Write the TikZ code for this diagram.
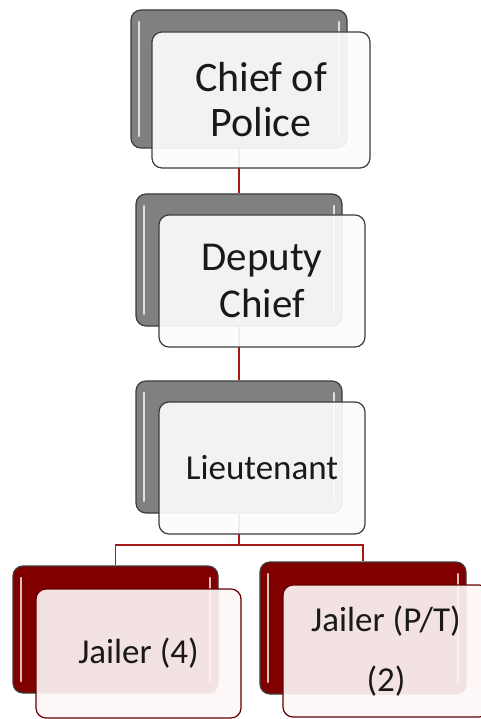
\documentclass[tikz,border=0pt]{standalone}
\usepackage{fontspec}
\setmainfont{Carlito}
\usetikzlibrary{calc}

\definecolor{backgray}{RGB}{128,128,128}
\definecolor{backred}{RGB}{128,0,0}
\definecolor{frontgray}{RGB}{252,252,252}
\definecolor{frontred}{RGB}{253,246,246}
\definecolor{linkred}{RGB}{165,25,25}
\definecolor{edgegray}{RGB}{60,60,60}

\tikzstyle{backbox} = [draw=edgegray, line width=1.2pt, rounded corners=10pt,
    minimum width=206pt, minimum height=132pt,
    path picture={
      \draw[white, line width=2.5pt, line cap=round, opacity=.75]
        ([xshift=8pt,yshift=-12pt]path picture bounding box.north west) --
        ([xshift=8pt,yshift=12pt]path picture bounding box.south west);
      \draw[white, line width=2.5pt, line cap=round, opacity=.75]
        ([xshift=-8pt,yshift=-12pt]path picture bounding box.north east) --
        ([xshift=-8pt,yshift=12pt]path picture bounding box.south east);
    }]
\tikzstyle{frontbox} = [draw=edgegray, line width=1.2pt, rounded corners=10pt,
    fill=frontgray, fill opacity=.92, text opacity=1, text=black!90,
    minimum width=206pt, minimum height=132pt, align=center]
\tikzstyle{link} = [draw=linkred, line width=1.3pt]

\begin{document}
\begin{tikzpicture}[x=1pt,y=-1pt]

\useasboundingbox (0,0) rectangle (481,719);

% back boxes
\node[backbox,fill=backgray,minimum width=216pt,minimum height=138pt] (chiefback) at (239,79) {};
\node[backbox,fill=backgray] (deputyback) at (239,260) {};
\node[backbox,fill=backgray] (lieutback) at (239,447) {};
\node[backbox,fill=backred,minimum width=205pt,minimum height=127pt] (jailaback) at (115.5,629.5) {};
\node[backbox,fill=backred] (jailbback) at (363,628) {};

% links
\coordinate (split) at (239,545);
\draw[link] (chiefback.south) -- (deputyback.north);
\draw[link] (deputyback.south) -- (lieutback.north);
\draw[link] (lieutback.south) -- (split) -| (jailaback.north);
\draw[link] (split) -| (jailbback.north);

% front boxes
\node[frontbox,minimum width=218pt,minimum height=136pt,
      font=\fontsize{42}{45}\selectfont] (chief) at (261,100) {Chief of\\Police};
\node[frontbox,font=\fontsize{41}{47}\selectfont] (deputy) at (262,281) {Deputy\\Chief};
\node[frontbox,font=\fontsize{35}{40}\selectfont] (lieut) at (262,468) {Lieutenant};
\node[frontbox,draw=backred!80!black,fill=frontred,minimum width=205pt,minimum height=129pt,
      font=\fontsize{35}{40}\selectfont] (jaila) at (138.5,653.5) {Jailer (4)};
\node[frontbox,draw=backred!80!black,fill=frontred,
      font=\fontsize{35}{60}\selectfont] (jailb) at (386,651) {Jailer (P/T)\\(2)};

\end{tikzpicture}
\end{document}
